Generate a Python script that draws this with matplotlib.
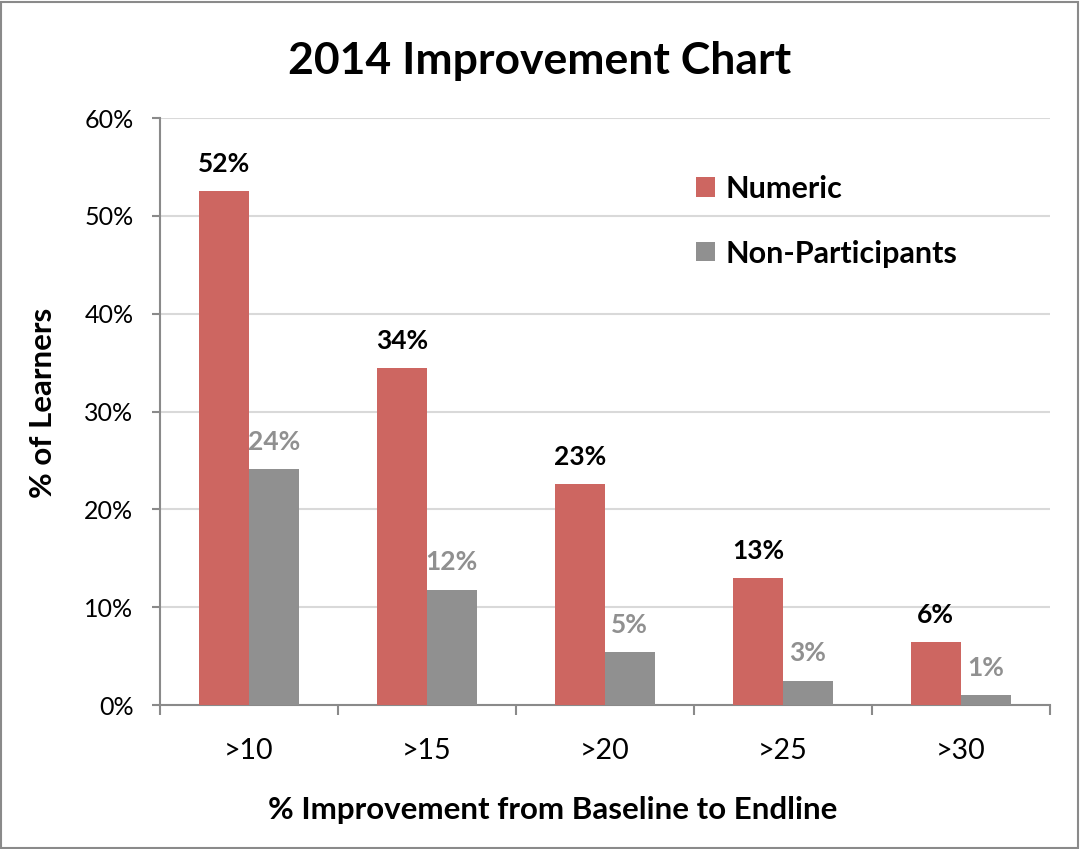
import numpy as np
import matplotlib.pyplot as plt
from matplotlib.ticker import PercentFormatter

categories = [">10", ">15", ">20", ">25", ">30"]
numeric = [52.5, 34.4, 22.6, 13.0, 6.4]
non_part = [24.1, 11.8, 5.4, 2.5, 1.0]
numeric_labels = ["52%", "34%", "23%", "13%", "6%"]
non_part_labels = ["24%", "12%", "5%", "3%", "1%"]

red = "#CD6661"
grey = "#909090"
font = "Lato"

fig = plt.figure(figsize=(10.8, 8.49), dpi=100)
ax = fig.add_axes([0.148, 0.1696, 0.824, 0.6914])

x = np.arange(len(categories))
w = 0.28
b1 = ax.bar(x - w / 2, numeric, w, color=red, label="Numeric", zorder=3)
b2 = ax.bar(x + w / 2, non_part, w, color=grey, label="Non-Participants", zorder=3)

# data labels above bars
for rect, lab in zip(b1, numeric_labels):
    ax.annotate(lab, (rect.get_x() + rect.get_width() / 2, rect.get_height()),
                xytext=(0, 11), textcoords="offset points", ha="center", va="bottom",
                fontsize=19, fontweight="bold", family=font, color="black")
for rect, lab in zip(b2, non_part_labels):
    ax.annotate(lab, (rect.get_x() + rect.get_width() / 2, rect.get_height()),
                xytext=(0, 11), textcoords="offset points", ha="center", va="bottom",
                fontsize=19, fontweight="bold", family=font, color=grey)

ax.set_xlim(-0.5, len(categories) - 0.5)
ax.set_ylim(0, 60)
ax.set_yticks(np.arange(0, 61, 10))
ax.yaxis.set_major_formatter(PercentFormatter(decimals=0))
ax.set_xticks(x)
ax.set_xticklabels(categories)
ax.set_xticks(np.arange(-0.5, len(categories)), minor=True)
ax.tick_params(axis="x", which="major", length=0, pad=24, labelsize=20.5)
ax.tick_params(axis="x", which="minor", length=7, width=1.5, color="#8a8a8a", direction="out")
ax.tick_params(axis="y", length=6, width=1.5, color="#8a8a8a", labelsize=18, pad=13)
for lab in ax.get_xticklabels() + ax.get_yticklabels():
    lab.set_family(font)

ax.grid(axis="y", color="#d9d9d9", linewidth=1.5, zorder=0)
for s in ["top", "right"]:
    ax.spines[s].set_visible(False)
for s in ["left", "bottom"]:
    ax.spines[s].set_color("#8a8a8a")
    ax.spines[s].set_linewidth(1.5)

ax.set_ylabel("% of Learners", fontsize=22.5, fontweight="bold", family=font)
ax.yaxis.set_label_coords(-0.115, 0.514)
ax.set_xlabel("% Improvement from Baseline to Endline", fontsize=22.5, fontweight="bold",
              family=font)
ax.xaxis.set_label_coords(0.4416, -0.155)
fig.text(0.5, 0.928, "2014 Improvement Chart", ha="center", va="center",
         fontsize=32, fontweight="bold", family=font)

leg = ax.legend(loc="upper left", bbox_to_anchor=(0.572, 0.95), frameon=False,
                prop={"family": font, "weight": "bold", "size": 22},
                handlelength=0.6, handleheight=0.6, handletextpad=0.35, labelspacing=1.2)

# outer border
fig.patches.append(plt.Rectangle((0.001, 0.001), 0.997, 0.997, transform=fig.transFigure,
                                 fill=False, edgecolor="#8a8a8a", linewidth=1.5))

fig.savefig("out.png", dpi=100)
